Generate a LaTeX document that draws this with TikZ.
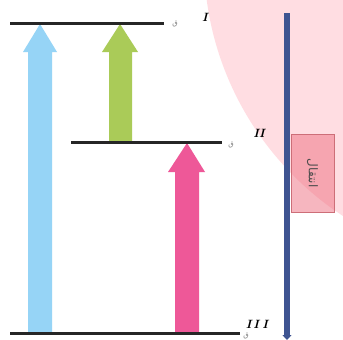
\documentclass[tikz,border=0pt]{standalone}
\usepackage{fontspec}
\newfontfamily\arabicfont[Script=Arabic]{DejaVu Sans}
\TeXXeTstate=1
\usetikzlibrary{arrows.meta}
\definecolor{bgpink}{RGB}{255,221,226}
\definecolor{boxpink}{RGB}{238,110,128}
\definecolor{boxedge}{RGB}{205,110,120}
\definecolor{lblue}{RGB}{150,212,246}
\definecolor{lgreen}{RGB}{170,203,88}
\definecolor{hpink}{RGB}{238,88,152}
\definecolor{dblue}{RGB}{62,84,145}
\tikzset{
  level/.style={line width=3pt, black!85},
  lvl/.style={font=\bfseries\itshape\large, inner sep=0pt},
  small/.style={font=\arabicfont\scriptsize, text=black!50, inner sep=0pt},
}
\begin{document}
\begin{tikzpicture}[x=1pt,y=-1pt]
\useasboundingbox (0,0) rectangle (343,340);
\fill[white] (0,0) rectangle (343,340);
% pink background circle
\begin{scope}
\clip (0,0) rectangle (343,340);
\fill[bgpink] (511,-41) circle (307);
\end{scope}
% coordinates for levels
\coordinate (IL) at (10,23);
\coordinate (IR) at (164,23);
\coordinate (IIL) at (71,142);
\coordinate (IIR) at (222,142);
\coordinate (IIIL) at (10,333);
\coordinate (IIIR) at (240,333);
% block arrows
\fill[lblue] (28,333) -- (28,52) -- (23,52) -- (40,24) -- (57,52) -- (52,52) -- (52,333) -- cycle;
\fill[lgreen] (109,142) -- (109,52) -- (102,52) -- (120,24) -- (138,52) -- (132,52) -- (132,142) -- cycle;
\fill[hpink] (175,333) -- (175,172) -- (168,172) -- (187,143) -- (205,172) -- (199,172) -- (199,333) -- cycle;
% levels
\draw[level] (IL) -- (IR);
\draw[level] (IIL) -- (IIR);
\draw[level] (IIIL) -- (IIIR);
% labels
\node[small] (qI) at (175,24) {ق};
\node[lvl] (lI) at (205,17) {I};
\node[small] (qII) at (231,145) {ق};
\node[lvl] (lII) at (259,133) {II};
\node[lvl] (lIII) at (257,324) {I\,I\;I};
\node[small] (qIII) at (246,336) {ق};
% vertical arrow
\coordinate (vtop) at (287,13);
\coordinate (vbot) at (287,340);
\draw[dblue, line width=6.5pt, -{Triangle[width=9pt,length=5pt]}] (vtop) -- (vbot);
% box
\node[draw=boxedge, fill=boxpink, fill opacity=0.5, text opacity=1, line width=0.8pt, minimum width=43pt, minimum height=78pt, inner sep=0pt] (box) at (312.5,173) {};
\node[rotate=-90, font=\arabicfont\large, text=black!70] (boxt) at (box.center) {\beginR انتقال\endR};
\end{tikzpicture}
\end{document}
